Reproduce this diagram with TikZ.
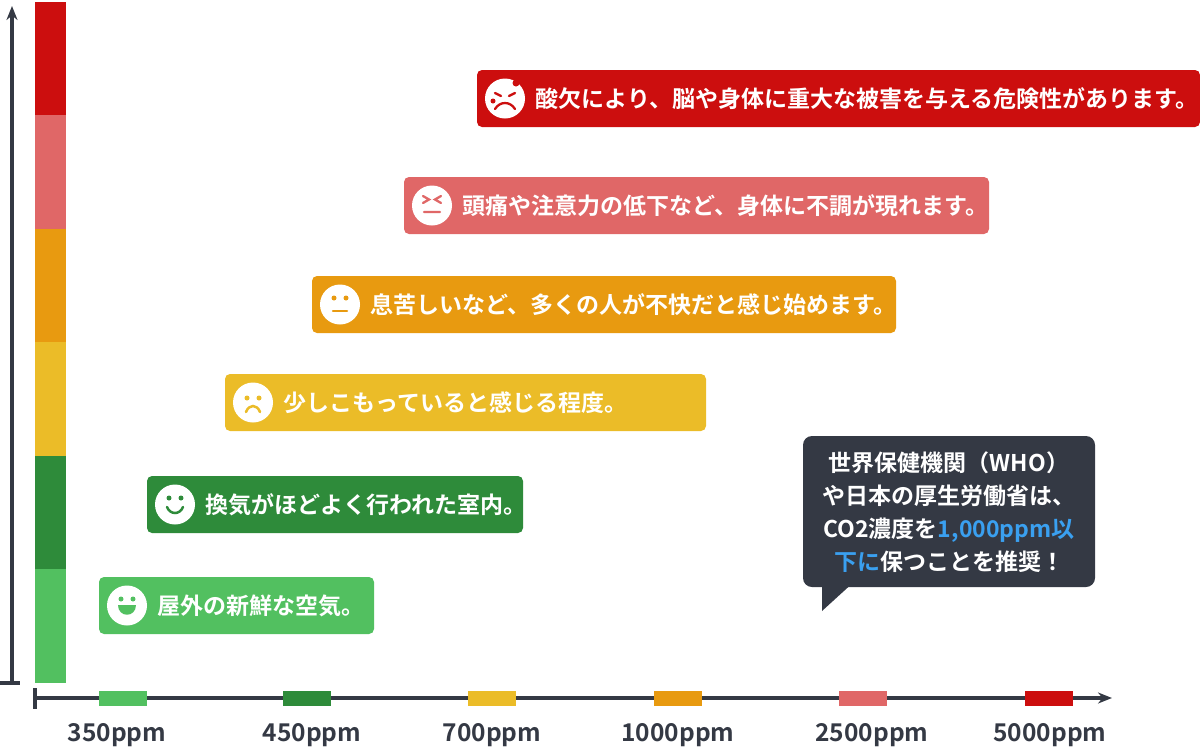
\documentclass[tikz,border=0pt]{standalone}
\usepackage{fontspec}
\setmainfont{Noto Sans CJK JP}[BoldFont={* Bold}]
\usetikzlibrary{arrows.meta}
\definecolor{cred}{HTML}{CC0E0E}
\definecolor{cpink}{HTML}{E06767}
\definecolor{corange}{HTML}{E89A10}
\definecolor{cyellow}{HTML}{EBBC28}
\definecolor{cdkgreen}{HTML}{2E8B3A}
\definecolor{cgreen}{HTML}{52C060}
\definecolor{axis}{HTML}{343944}
\definecolor{cblue}{HTML}{3AA0F0}
\tikzset{
 lvl/.style={rounded corners=5pt,draw=none},
 msg/.style={anchor=west,text=white,font=\bfseries\fontsize{23}{26}\selectfont},
 ppm/.style={font=\bfseries\fontsize{24.5}{28}\selectfont,text=axis},
 face/.style={fill=white,circle,minimum size=40pt,inner sep=0},
}
\begin{document}
\begin{tikzpicture}[x=1pt,y=-1pt]
\useasboundingbox (0,0) rectangle (1200,750);
% colour bar
\fill[cred] (35,2) rectangle (66,115);
\fill[cpink] (35,115) rectangle (66,229);
\fill[corange] (35,229) rectangle (66,342);
\fill[cyellow] (35,342) rectangle (66,456);
\fill[cdkgreen] (35,456) rectangle (66,569);
\fill[cgreen] (35,569) rectangle (66,683);
% axes
\coordinate (vb) at (12,683); \coordinate (vt) at (12,6);
\draw[axis,line width=3.5pt,-{Stealth[length=14pt,width=11pt]}] (vb) -- (vt);
\draw[axis,line width=3.5pt] (0,683) -- (20,683);
\coordinate (hl) at (35,698); \coordinate (hr) at (1112,698);
\draw[axis,line width=3.5pt,-{Stealth[length=14pt,width=11pt]}] (hl) -- (hr);
\draw[axis,line width=3.5pt] (35,688) -- (35,709);
\foreach \x/\c in {123/cgreen,307/cdkgreen,492/cyellow,678/corange,863/cpink,1049/cred}{
 \fill[\c] (\x-24,691) rectangle (\x+24,706);
}
\foreach \x/\t in {117/350ppm,312/450ppm,492/700ppm,678/1000ppm,872/2500ppm,1050/5000ppm}{
 \node[ppm] at (\x,735) {\t};
}
% level boxes
\fill[lvl,cgreen] (99,577) rectangle (374,634);
\fill[lvl,cdkgreen] (147,476) rectangle (523,533);
\fill[lvl,cyellow] (225,374) rectangle (706,431);
\fill[lvl,corange] (312,276) rectangle (896,333);
\fill[lvl,cpink] (404,177) rectangle (989,234);
\fill[lvl,cred] (477,70) rectangle (1200,127);
% faces
\node[face] (f1) at (127,605.5) {};
\fill[cgreen] (121,599) circle (2.5); \fill[cgreen] (133,599) circle (2.5);
\fill[cgreen] (118,605) .. controls (118,618) and (136,618) .. (136,605) -- cycle;
\node[face] (f2) at (175,504.5) {};
\fill[cdkgreen] (169,498) circle (2.5); \fill[cdkgreen] (181,498) circle (2.5);
\draw[cdkgreen,line width=2.5pt,line cap=round] (167,507) .. controls (170,515) and (180,515) .. (183,507);
\node[face] (f3) at (253,402.5) {};
\fill[cyellow] (247,398) circle (2.5); \fill[cyellow] (259,398) circle (2.5);
\draw[cyellow,line width=2.5pt,line cap=round] (246,412) .. controls (249,404) and (257,404) .. (260,412);
\node[face] (f4) at (340,304.5) {};
\fill[corange] (334,298) circle (2.5); \fill[corange] (346,298) circle (2.5);
\draw[corange,line width=2.5pt,line cap=round] (333,311) -- (347,311);
\node[face] (f5) at (432,205.5) {};
\draw[cpink,line width=2.3pt,line cap=round] (423,196)--(429,199.5)--(423,203) (441,196)--(435,199.5)--(441,203) (424,212)--(440,212);
\node[face] (f6) at (505,98.5) {};
\fill[cred] (516,83) circle (3.5);
\draw[cred,line width=2.3pt,line cap=round] (495,93)--(501,96) (515,93)--(509,96) (495,109) .. controls (500,101) and (510,101) .. (515,109);
\fill[cred] (493,101) circle (2.5);
% texts
\node[msg] (t1) at (154,605.5) {屋外の新鮮な空気。};
\node[msg] (t2) at (202,504.5) {換気がほどよく行われた室内。};
\node[msg] (t3) at (280,402.5) {少しこもっていると感じる程度。};
\node[msg] (t4) at (367,304.5) {息苦しいなど、多くの人が不快だと感じ始めます。};
\node[msg] (t5) at (459,205.5) {頭痛や注意力の低下など、身体に不調が現れます。};
\node[msg] (t6) at (532,98.5) {酸欠により、脳や身体に重大な被害を与える危険性があります。};
% bubble
\fill[axis,rounded corners=9pt] (803,436) rectangle (1095,587);
\fill[axis] (822,580) -- (822,611) -- (856,580) -- cycle;
\node[text=white,align=center,font=\bfseries\fontsize{23}{33}\selectfont] (b) at (949,512)
 {世界保健機関（WHO）\\や日本の厚生労働省は、\\CO2濃度を\textcolor{cblue}{1,000ppm以}\\\textcolor{cblue}{下に}保つことを推奨！};
\end{tikzpicture}
\end{document}
